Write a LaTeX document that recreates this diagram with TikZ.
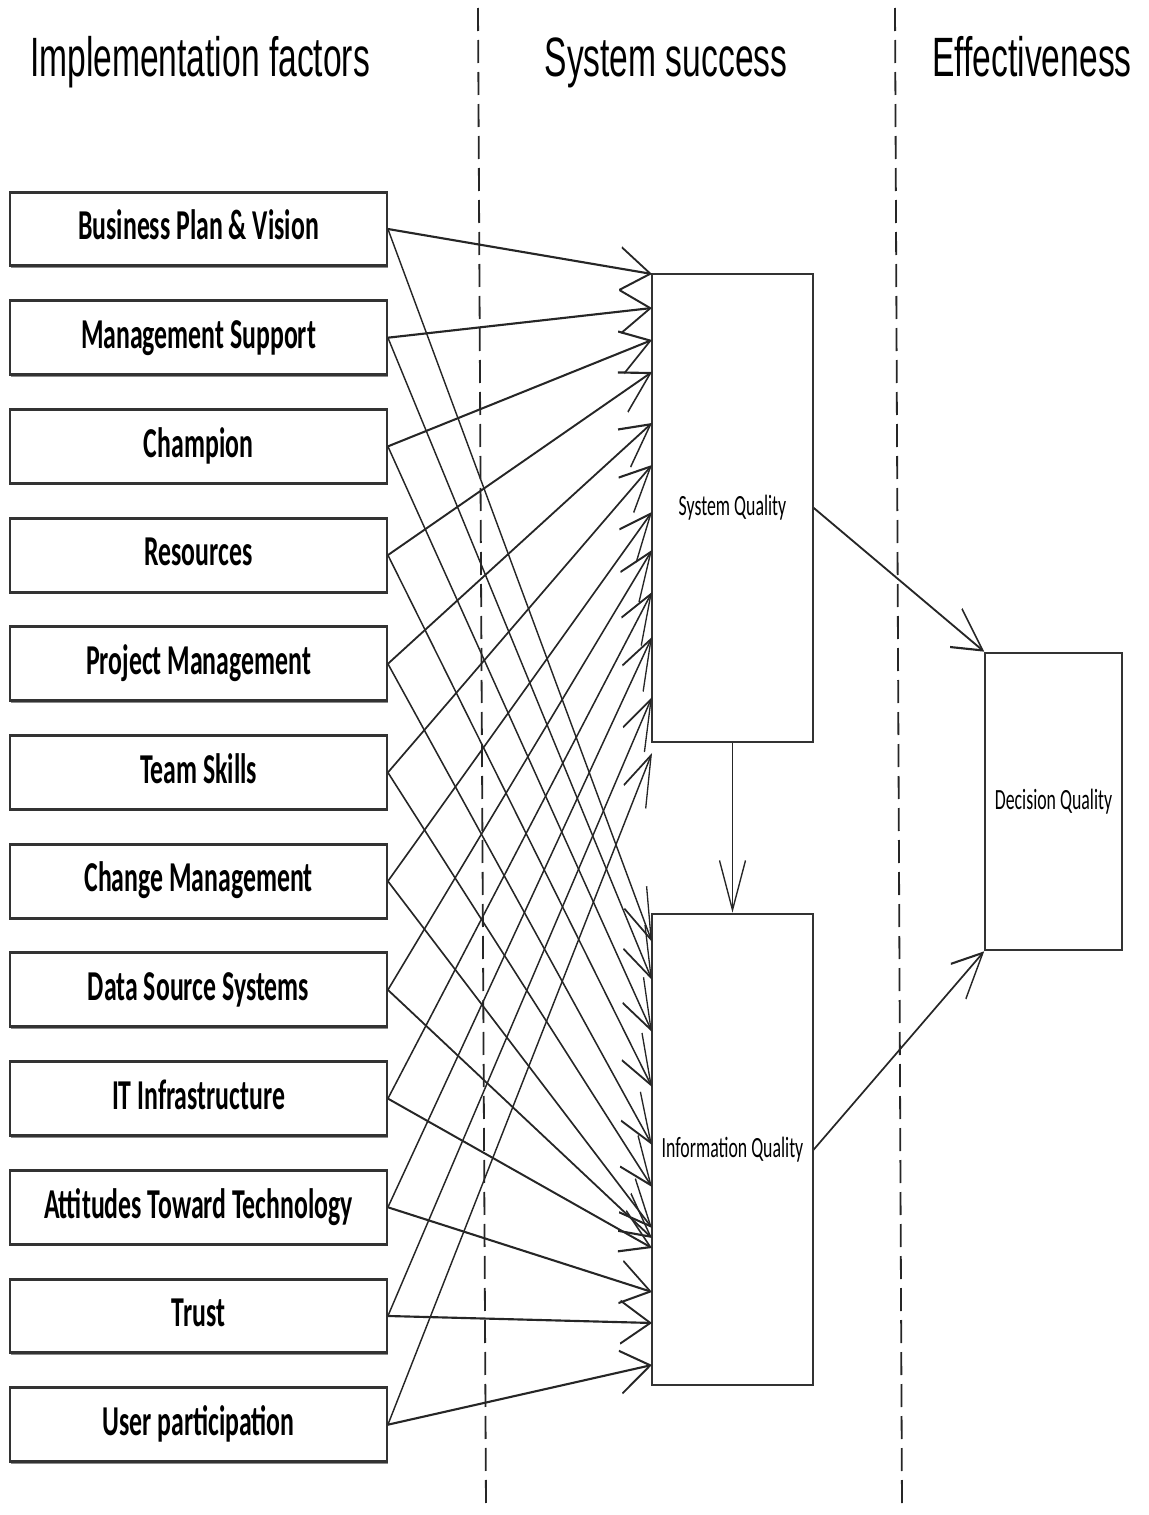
\documentclass[tikz,border=0pt]{standalone}
\usepackage{fontspec}
\setmainfont{Carlito}
\newfontfamily\headfont{Liberation Sans}
\usetikzlibrary{arrows.meta,shadows,fit}

\tikzset{
  colsep/.style={dash pattern=on 11.5pt off 4.5pt, line width=0.9pt, draw=black!85},
  head/.style={anchor=base, inner sep=0pt, font=\headfont\fontsize{16.8}{20}\selectfont},
  factor/.style={draw=black!80, line width=0.9pt, fill=white,
    minimum width=188.5pt, minimum height=22.4pt, inner sep=0pt,
    text height=8.5pt, text depth=2pt,
    font=\fontsize{12.9}{15}\selectfont\bfseries,
    drop shadow={shadow xshift=0.6pt, shadow yshift=-0.6pt, fill=black!45, opacity=1}},
  quality/.style={draw=black!80, line width=0.8pt, inner sep=0pt},
  qtext/.style={inner sep=0pt, font=\fontsize{8.9}{10}\selectfont},
  link/.style={draw=black!85, line width=0.65pt, line join=miter,
    -{Straight Barb[length=15pt,width=13pt,line join=miter]}}
}

\begin{document}
\begin{tikzpicture}[x=0.5pt,y=-0.5pt]
\useasboundingbox (0,0) rectangle (1148,1515);

% column separators
\draw[colsep] (478,8) -- (486,1508);
\draw[colsep] (895,8) -- (902,1508);

% everything else is drawn on a vertically stretched canvas
\begin{scope}[y=-0.30303pt, transform canvas={yscale=1.65}]

  % column headings
  \node[head] (h1) at (200,77)  {Implementation factors};
  \node[head] (h2) at (666,77)  {System success};
  \node[head] (h3) at (1032,77) {Effectiveness};

  % implementation factors
  \foreach \t [count=\i] in {Business Plan \& Vision, Management Support, Champion,
      Resources, Project Management, Team Skills, Change Management,
      Data Source Systems, IT Infrastructure, Attitudes Toward Technology,
      Trust, User participation}
    \node[factor] (b\i) at (198.5,{229+(\i-1)*108.7}) {\t};

  % success and effectiveness measures
  \node[quality, fit={(652,274) (813,742)},
        label={[qtext]center:System Quality}] (sq) {};
  \node[quality, fit={(652,914) (813,1385)},
        label={[qtext]center:Information Quality}] (iq) {};
  \node[quality, fit={(985,653) (1122,950)},
        label={[qtext]center:Decision Quality}] (dq) {};

  % arrow end points on the left sides of the two quality boxes
  \foreach \i/\s/\q in {1/274/942, 2/308/980, 3/340/1032, 4/372/1087,
      5/423/1145, 6/465/1187, 7/512/1228, 8/550/1238, 9/592/1248,
      10/637/1292, 11/697/1323, 12/753/1365} {
    \coordinate (s\i) at (652,\s);
    \coordinate (q\i) at (652,\q);
  }

  % every factor feeds both system and information quality
  \foreach \i in {1,...,12} {
    \draw[link] (b\i.east) -- (s\i);
    \draw[link] (b\i.east) -- (q\i);
  }

  \draw[link] (sq.south) -- (iq.north);
  \draw[link] (sq.east) -- (dq.north west);
  \draw[link] (iq.east) -- (dq.south west);
\end{scope}
\end{tikzpicture}
\end{document}
